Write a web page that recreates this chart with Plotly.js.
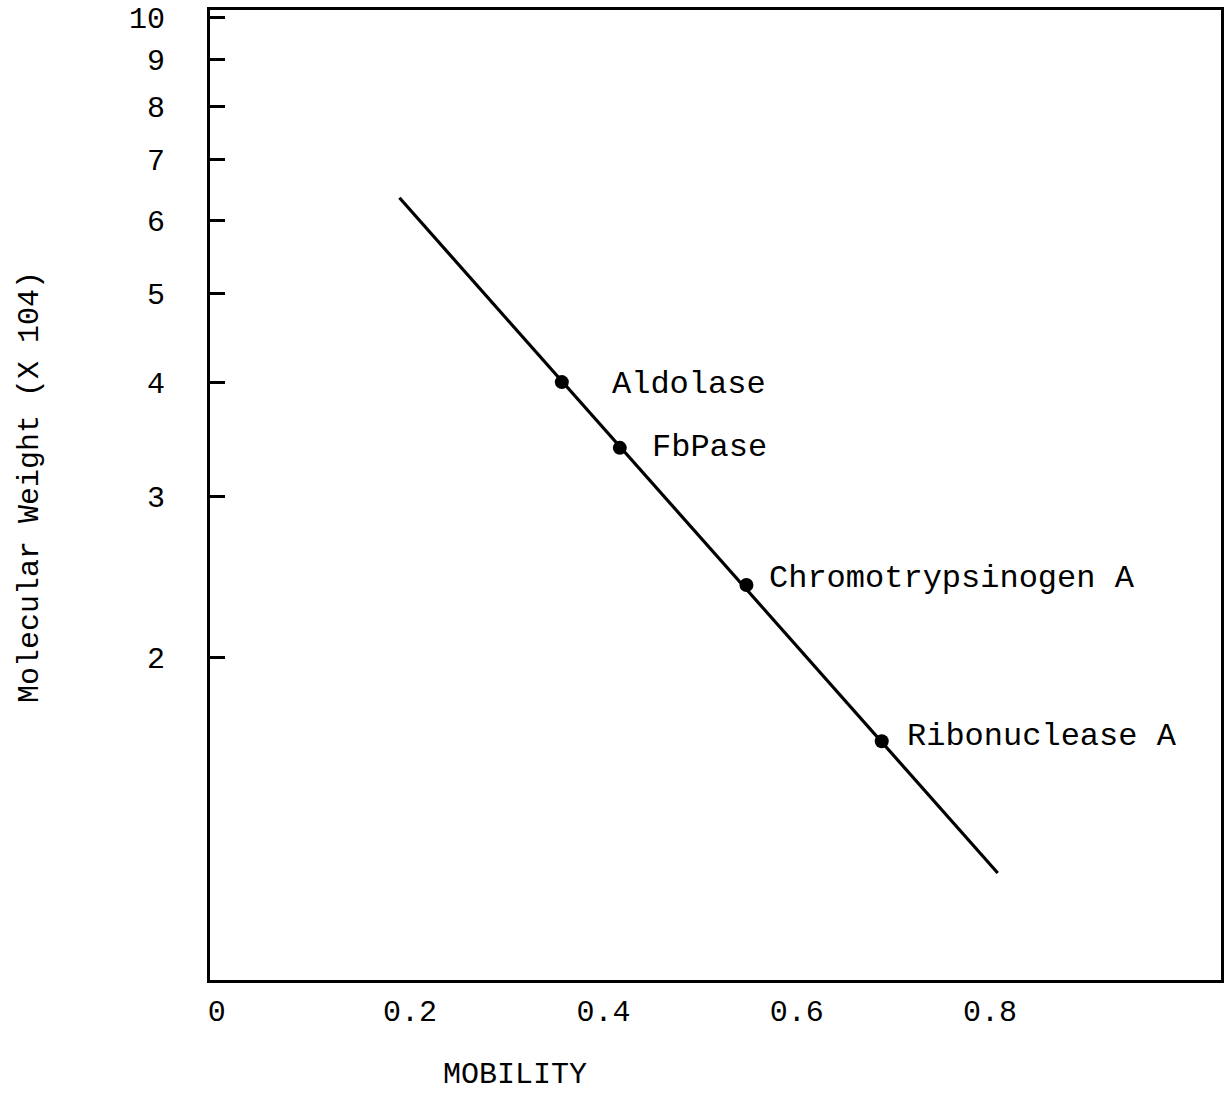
<!DOCTYPE html>
<html>
<head>
<meta charset="utf-8">
<script src="https://cdn.plot.ly/plotly-3.0.1.min.js"></script>
<style>
html, body { margin: 0; padding: 0; background: #fff; }
#chart { width: 1232px; height: 1095px; }
</style>
</head>
<body>
<div id="chart"></div>
<script>
// Data
const proteins = ["Aldolase", "FbPase", "Chromotrypsinogen A", "Ribonuclease A"];
const mobility = [0.357, 0.417, 0.548, 0.688];
const molWeight = [4.0, 3.39, 2.40, 1.62];   // x 10^4

// Fitted standard line (end points)
const lineMobility = [0.189, 0.808];
const lineWeight = [6.36, 1.163];

// Tick labels
const yTickVals = [2, 3, 4, 5, 6, 7, 8, 9, 10];
const yTickText = ["2", "3", "4", "5", "6", "7", "8", "9", "10"];
const xTickVals = [0, 0.2, 0.4, 0.6, 0.8];
const xTickText = ["0", "0.2", "0.4", "0.6", "0.8"];

const xTitle = "MOBILITY";
const yTitle = "Molecular Weight (X 104)";

// label offsets (layout styling)
const labelShift = [[48, -2], [30, 0], [21, 7], [23, 5]];

const FONT = "Liberation Mono, Courier New, monospace";

const traces = [
  {
    x: lineMobility, y: lineWeight, type: "scatter", mode: "lines",
    line: { color: "#000", width: 3.2 }, hoverinfo: "skip", showlegend: false
  },
  {
    x: mobility, y: molWeight, type: "scatter", mode: "markers",
    marker: { color: "#000", size: 14 }, text: proteins, showlegend: false
  }
];

const annotations = proteins.map((p, i) => ({
  x: mobility[i], y: Math.log10(molWeight[i]), xref: "x", yref: "y",
  text: p, showarrow: false, xanchor: "left", yanchor: "middle",
  xshift: labelShift[i][0], yshift: labelShift[i][1],
  font: { family: FONT, size: 32, color: "#000" }
}));
annotations.push({
  x: (515 - 210) / 1011, y: 0, xref: "paper", yref: "paper",
  yshift: -95, text: xTitle, showarrow: false, borderpad: 0,
  xanchor: "center", yanchor: "middle",
  font: { family: FONT, size: 30, color: "#000" }
});
annotations.push({
  x: 0, y: (980 - 487) / 970, xref: "paper", yref: "paper",
  xshift: -180, text: yTitle, showarrow: false, textangle: -90,
  xanchor: "center", yanchor: "middle",
  font: { family: FONT, size: 30, color: "#000" }
});

const layout = {
  width: 1232, height: 1095,
  margin: { l: 210, r: 11, t: 10, b: 115 },
  paper_bgcolor: "#fff", plot_bgcolor: "#fff",
  font: { family: FONT, color: "#000", size: 30 },
  xaxis: {
    range: [-0.007, 1.039],
    tickvals: xTickVals, ticktext: xTickText,
    ticks: "", showgrid: false, zeroline: false,
    showline: true, mirror: true, linecolor: "#000", linewidth: 3,
    ticklabelstandoff: 2,
    tickfont: { family: FONT, size: 30, color: "#000" }
  },
  yaxis: {
    type: "log",
    range: [-0.0514, 1.0087],
    tickvals: yTickVals, ticktext: yTickText,
    ticks: "inside", ticklen: 15, tickwidth: 3, tickcolor: "#000",
    showgrid: false, zeroline: false,
    showline: true, mirror: true, linecolor: "#000", linewidth: 3,
    ticklabelstandoff: 36,
    tickfont: { family: FONT, size: 30, color: "#000" }
  },
  annotations: annotations,
  showlegend: false
};

Plotly.newPlot("chart", traces, layout, { displayModeBar: false, staticPlot: true });
</script>
</body>
</html>
